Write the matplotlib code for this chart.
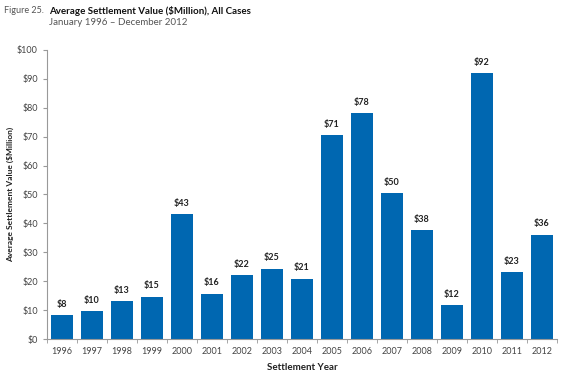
import numpy as np
import matplotlib.pyplot as plt

# data
years = [str(y) for y in range(1996, 2013)]
values = [8.3, 9.7, 13.0, 14.6, 43.2, 15.7, 22.0, 24.3, 20.9,
          70.6, 78.2, 50.4, 37.7, 11.8, 92.0, 23.2, 36.1]
labels = ["$8", "$10", "$13", "$15", "$43", "$16", "$22", "$25", "$21",
          "$71", "$78", "$50", "$38", "$12", "$92", "$23", "$36"]
yticks = list(range(0, 101, 10))

plt.rcParams["font.family"] = ["Lato", "DejaVu Sans"]

fig = plt.figure(figsize=(5.62, 3.78), dpi=100)
ax = fig.add_axes([0.0836, 0.103, 0.9074, 0.765])

x = np.arange(len(years))
ax.bar(x, values, width=0.72, color="#0067b1")

for xi, v, lab in zip(x, values, labels):
    ax.text(xi, v + 2.2, lab, ha="center", va="bottom", fontsize=6.5,
            fontweight="bold", color="#222222")

ax.set_xlim(-0.5, len(years) - 0.5)
ax.set_ylim(0, 100)
ax.set_yticks(yticks)
ax.set_yticklabels([f"${t}" for t in yticks])
ax.set_xticks(x)
ax.set_xticklabels(years)
ax.set_xticks(np.arange(-0.5, len(years)), minor=True)
ax.tick_params(axis="x", which="major", length=0, pad=6, labelsize=6.5,
               labelcolor="#444444")
ax.tick_params(axis="x", which="minor", length=3, color="#999999")
ax.tick_params(axis="y", length=3, color="#999999", labelsize=6.5,
               labelcolor="#444444")

for s in ["top", "right"]:
    ax.spines[s].set_visible(False)
for s in ["left", "bottom"]:
    ax.spines[s].set_color("#999999")
    ax.spines[s].set_linewidth(0.8)

ax.set_xlabel("Settlement Year", fontsize=7, fontweight="bold",
              color="#222222", labelpad=5)
fig.text(0.018, 0.485, "Average Settlement Value ($Million)", fontsize=6,
         fontweight="bold", color="#222222", rotation=90,
         ha="center", va="center")

fig.text(0.008, 0.972, "Figure 25.", fontsize=6.5, color="#555555",
         va="center")
fig.text(0.087, 0.972, "Average Settlement Value ($Million), All Cases",
         fontsize=7, fontweight="bold", color="#111111", va="center")
fig.text(0.087, 0.94, "January 1996 \u2013 December 2012", fontsize=7,
         color="#555555", va="center")

fig.savefig("out.png", dpi=100)
